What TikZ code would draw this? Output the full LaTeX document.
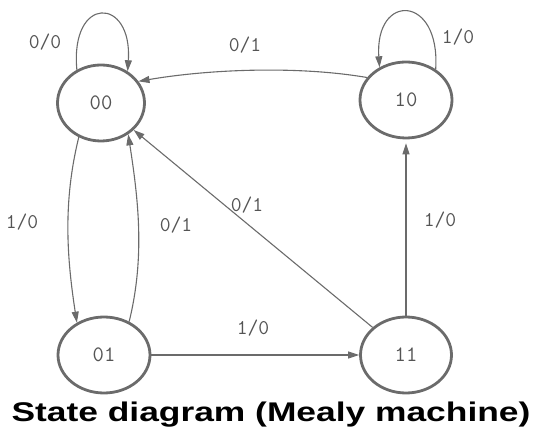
\documentclass[tikz,border=0pt]{standalone}
\usepackage{fontspec}
\newfontfamily\titlefont{Liberation Sans}
\usetikzlibrary{shapes.geometric,arrows.meta}
\definecolor{ink}{gray}{0.42}
\definecolor{txt}{gray}{0.33}
\tikzset{
  state/.style={ellipse, draw=ink, line width=2.8pt, inner sep=0pt, minimum height=76pt, text=txt, font=\fontsize{22}{22}\selectfont\ttfamily},
  edge/.style={draw=ink, line width=1.1pt, -{Triangle[length=11pt,width=7pt]}},
  lab/.style={text=txt, font=\fontsize{21}{21}\selectfont\ttfamily, inner sep=0pt}
}
\begin{document}
\begin{tikzpicture}[x=1pt,y=1pt]
\useasboundingbox (0,0) rectangle (533,428);
\node[state, minimum width=87pt] (n00) at (101,325) {00};
\node[state, minimum width=92pt] (n10) at (406,328) {10};
\node[state, minimum width=92pt] (n01) at (104,73) {01};
\node[state, minimum width=91pt] (n11) at (406,73) {11};
% edges
\draw[edge] (n00.126) .. controls +(-7,75) and +(5,75) .. (n00.50);
\draw[edge] (n10.46) .. controls +(5,75) and +(-5,75) .. (n10.129);
\draw[edge] (n10.150) .. controls +(-70,12) and +(70,12) .. (n00.30);
\draw[edge] (n00.237) .. controls +(-16,-65) and +(-10,65) .. (n01.130);
\draw[edge] (n01.53) .. controls +(16,65) and +(10,-65) .. (n00.311);
\draw[edge] (n11) -- (n00);
\draw[edge] (n01) -- (n11);
\draw[edge, shorten >=4pt] (n11) -- (n10);
% labels
\node[lab] (l1) at (45,386) {0/0};
\node[lab] (l2) at (245,383) {0/1};
\node[lab] (l3) at (458,391) {1/0};
\node[lab] (l4) at (22,206) {1/0};
\node[lab] (l5) at (176,203) {0/1};
\node[lab] (l6) at (247,223) {0/1};
\node[lab] (l7) at (253,100) {1/0};
\node[lab] (l8) at (440,208) {1/0};
\node[inner sep=0pt, anchor=base, xscale=1.31, font=\titlefont\bfseries\fontsize{27}{27}\selectfont] (title) at (271,6) {State diagram (Mealy machine)};
\end{tikzpicture}
\end{document}
